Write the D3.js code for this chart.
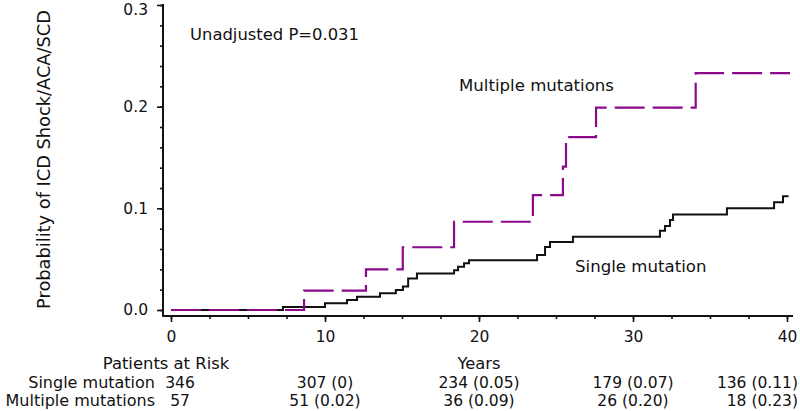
<!DOCTYPE html>
<html><head><meta charset="utf-8">
<script src="https://cdn.jsdelivr.net/npm/d3@7"></script>
<style>
html,body{margin:0;padding:0;background:#fff;}
svg{display:block;font-family:"DejaVu Sans",Verdana,sans-serif;}
</style></head>
<body>
<svg id="chart" width="800" height="411"></svg>
<script>
// ---- data ----
const singleTimes = [0, 7.27, 10.0, 11.43, 12.08, 13.57, 14.6, 15.06, 15.4, 15.97, 18.38, 18.64, 19.03, 19.35, 23.77, 24.29, 24.61, 26.1, 31.75, 32.08, 32.4, 32.6, 36.1, 39.16, 39.74, 40.1];
const singleProb  = [0, 0.003, 0.0066, 0.0098, 0.013, 0.0164, 0.0197, 0.023, 0.031, 0.036, 0.039, 0.0426, 0.046, 0.049, 0.054, 0.062, 0.067, 0.072, 0.078, 0.0826, 0.0885, 0.094, 0.100, 0.106, 0.112, 0.112];
const multiTimes = [0, 8.64, 12.66, 15.05, 18.38, 23.5, 25.45, 25.65, 27.6, 34.07, 40.2];
const multiProb  = [0, 0.019, 0.040, 0.0617, 0.0868, 0.113, 0.141, 0.170, 0.199, 0.233, 0.233];
const xTicks = [0, 10, 20, 30, 40];
const yTicks = [0.0, 0.1, 0.2, 0.3];
const riskTimes = [0, 10, 20, 30, 40];
const riskSingle = ["346", "307 (0)", "234 (0.05)", "179 (0.07)", "136 (0.11)"];
const riskMulti  = ["57", "51 (0.02)", "36 (0.09)", "26 (0.20)", "18 (0.23)"];
const groupNames = ["Single mutation", "Multiple mutations"];

// ---- layout ----
const svg = d3.select("#chart");
const x = d3.scaleLinear().domain([0, 40]).range([171, 787]);
const y = d3.scaleLinear().domain([0, 0.3]).range([310, 5]);
const axX = 163, axY = 316;
const ink = "#111";
const purple = "#8b0a8b";

// y axis
const yMajor = d3.axisLeft(y).tickValues(yTicks).tickFormat(d3.format(".1f")).tickSize(6).tickSizeOuter(0);
const yMinor = d3.axisLeft(y).tickValues(d3.range(0, 0.3001, 0.02)).tickFormat("").tickSize(3).tickSizeOuter(0);
const gyMin = svg.append("g").attr("transform", `translate(${axX},0)`).call(yMinor);
const gy = svg.append("g").attr("transform", `translate(${axX},0)`).call(yMajor);
[gy, gyMin].forEach(g => { g.select(".domain").remove(); g.selectAll("line").attr("stroke", ink).attr("stroke-width", 1.6); });
gy.selectAll("text").attr("font-size", "15.5px").attr("fill", ink).attr("x", -15).attr("font-family", "DejaVu Sans")
  .attr("dy", d => d === 0.3 ? "0.62em" : "0.32em");

// x axis
const xMajor = d3.axisBottom(x).tickValues(xTicks).tickFormat(d3.format("d")).tickSize(6).tickSizeOuter(0);
const xMinor = d3.axisBottom(x).tickValues(d3.range(0, 40.01, 2.5)).tickFormat("").tickSize(3).tickSizeOuter(0);
const gxMin = svg.append("g").attr("transform", `translate(0,${axY})`).call(xMinor);
const gx = svg.append("g").attr("transform", `translate(0,${axY})`).call(xMajor);
[gx, gxMin].forEach(g => { g.select(".domain").remove(); g.selectAll("line").attr("stroke", ink).attr("stroke-width", 1.6); });
gx.selectAll("text").attr("font-size", "15.5px").attr("fill", ink).attr("y", 15).attr("font-family", "DejaVu Sans");

// axis lines
svg.append("line").attr("x1", axX).attr("x2", axX).attr("y1", y(0.3) - 1).attr("y2", axY + 0.8)
  .attr("stroke", ink).attr("stroke-width", 2);
svg.append("line").attr("x1", axX).attr("x2", x(40) + 6).attr("y1", axY).attr("y2", axY)
  .attr("stroke", ink).attr("stroke-width", 2);

// y title
svg.append("text").attr("transform", `translate(50,${(y(0.3) + y(0)) / 2 + 2}) rotate(-90)`)
  .attr("text-anchor", "middle").attr("font-size", "17.8px").attr("fill", ink)
  .text("Probability of ICD Shock/ACA/SCD");

// curves
const line = d3.line().x(d => x(d[0])).y(d => y(d[1])).curve(d3.curveStepAfter);
svg.append("path").datum(singleTimes.map((t, i) => [t, singleProb[i]]))
  .attr("d", line).attr("fill", "none").attr("stroke", ink).attr("stroke-width", 2);
svg.append("path").datum(multiTimes.map((t, i) => [t, multiProb[i]]))
  .attr("d", line).attr("fill", "none").attr("stroke", purple).attr("stroke-width", 2.2)
  .attr("stroke-dasharray", "30,8");

// annotations
svg.append("text").attr("x", 190).attr("y", 40).attr("font-size", "16.4px").attr("fill", ink).text("Unadjusted P=0.031");
svg.append("text").attr("x", 459).attr("y", 91).attr("font-size", "16.6px").attr("fill", ink).text("Multiple mutations");
svg.append("text").attr("x", 575).attr("y", 272).attr("font-size", "16.6px").attr("fill", ink).text("Single mutation");

// risk table
svg.append("text").attr("x", 166).attr("y", 369).attr("text-anchor", "middle").attr("font-size", "16.4px").attr("fill", ink).text("Patients at Risk");
svg.append("text").attr("x", x(20)).attr("y", 369).attr("text-anchor", "middle").attr("font-size", "16.4px").attr("fill", ink).text("Years");
const rows = [riskSingle, riskMulti];
rows.forEach((vals, r) => {
  const by = 388 + r * 18;
  svg.append("text").attr("x", 155).attr("y", by).attr("text-anchor", "end").attr("font-size", "16px").attr("fill", ink).text(groupNames[r]);
  vals.forEach((v, i) => {
    const t = riskTimes[i];
    let xx = x(t), anchor = "middle";
    if (i === 0) xx = x(t) + 9;
    if (i === vals.length - 1) { xx = 798; anchor = "end"; }
    svg.append("text").attr("x", xx).attr("y", by).attr("text-anchor", anchor).attr("font-size", "15.5px").attr("fill", ink).text(v);
  });
});
</script>
</body></html>
